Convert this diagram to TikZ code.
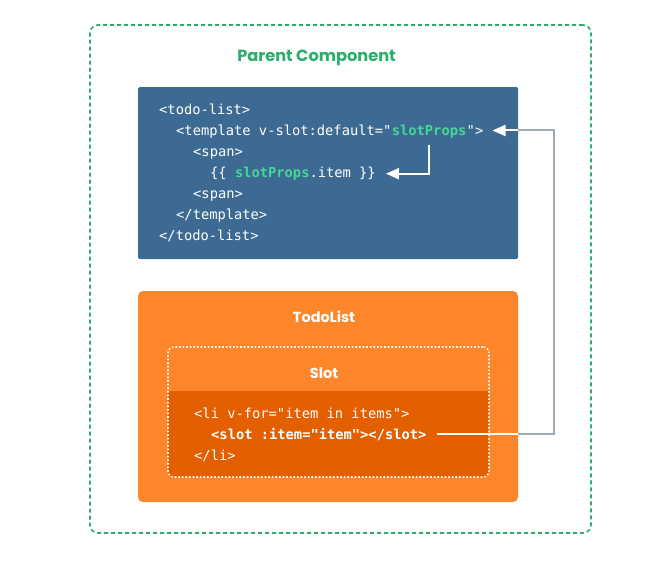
\documentclass[tikz,border=0pt]{standalone}
\usepackage{fontspec}
\setmainfont{Poppins}
\setmonofont{DejaVu Sans Mono}
\usetikzlibrary{arrows.meta,calc}
\definecolor{pgreen}{HTML}{2BAD6B}
\definecolor{lgreen}{HTML}{44D895}
\definecolor{cblue}{HTML}{3D6A93}
\definecolor{corange}{HTML}{FE862A}
\definecolor{dorange}{HTML}{E35F00}
\definecolor{rail}{HTML}{9DAAB2}
\newcommand{\codefont}{\ttfamily\fontsize{13.75}{16}\selectfont}
\tikzset{
  code/.style={anchor=base west, inner sep=0pt, font=\codefont, text=white},
  head/.style={anchor=base, font=\bfseries\fontsize{14.5}{17}\selectfont, text=white, inner sep=0pt},
  wline/.style={draw=white, line width=2pt},
  gline/.style={draw=rail, line width=2pt},
  tip/.style={-{Triangle[length=13pt,width=11pt]}},
}
\begin{document}
\begin{tikzpicture}[x=1pt,y=-1pt]
\useasboundingbox (0,0) rectangle (660,571);
% outer parent box
\node[draw=pgreen, line width=1.6pt, dash pattern=on 4pt off 3pt, rounded corners=8pt,
      minimum width=501pt, minimum height=508pt, inner sep=0pt] (parent) at (340.5,279) {};
\node[anchor=base, font=\bfseries\fontsize{16.2}{19}\selectfont, text=pgreen, inner sep=0pt] (ptitle) at (316.5,61) {Parent Component};
% code box
\node[fill=cblue, rounded corners=1.5pt, minimum width=380pt, minimum height=172pt, inner sep=0pt] (codebox) at (328,173) {};
\node[code] (l1) at (159,114.5) {<todo-list>};
\node[code] (l2a) at (176,135.5) {<template v-slot:default="};
\node[code, font=\codefont\bfseries, text=lgreen] (sp) at (l2a.base east) {slotProps};
\node[code] (l2b) at (sp.base east) {">};
\node[code] (l3) at (193,156.5) {<span>};
\node[code] (l4) at (210,177.5) {\{\{ \textcolor{lgreen}{\bfseries slotProps}.item \}\}};
\node[code] (l5) at (193,198.5) {<span>};
\node[code] (l6) at (176,219.5) {</template>};
\node[code] (l7) at (159,240.5) {</todo-list>};
% todolist box
\node[fill=corange, rounded corners=5pt, minimum width=380pt, minimum height=211pt, inner sep=0pt] (todo) at (328,396.5) {};
\node[head] (ttitle) at (324,322) {TodoList};
% slot box
\coordinate (slnw) at (168,347);
\coordinate (slse) at (489,477);
\begin{scope}
  \clip[rounded corners=6pt] (slnw) rectangle (slse);
  \fill[dorange] (168,391) rectangle (slse);
\end{scope}
\node[draw=white, line width=1.6pt, dash pattern=on 1.6pt off 2pt, rounded corners=6pt,
      minimum width=321pt, minimum height=130pt, inner sep=0pt] (slot) at (328.5,412) {};
\node[head] (stitle) at (324,378) {Slot};
\node[code] (s1) at (194,418) {<li v-for="item in items">};
\node[code, font=\codefont\bfseries] (s2) at (211,439) {<slot :item="item"></slot>};
\node[code] (s3) at (194,460) {</li>};
% connectors
\coordinate (railx) at (554,0);
\coordinate (sa) at ($(s2.east)+(10pt,0)$);
\coordinate (sb) at (sa -| todo.east);
\coordinate (ta) at ($(l2b.east)+(9pt,0)$);
\coordinate (tb) at (ta -| codebox.east);
\draw[wline] (sa) -- (sb);
\draw[gline] (sb) -- (sb -| railx) -- (tb -| railx) -- (tb);
\draw[wline, tip] (tb) -- (ta);
\draw[wline, tip] ([yshift=-6pt]sp.south) |- ($(l4.east)+(10pt,0)$);
\end{tikzpicture}
\end{document}
